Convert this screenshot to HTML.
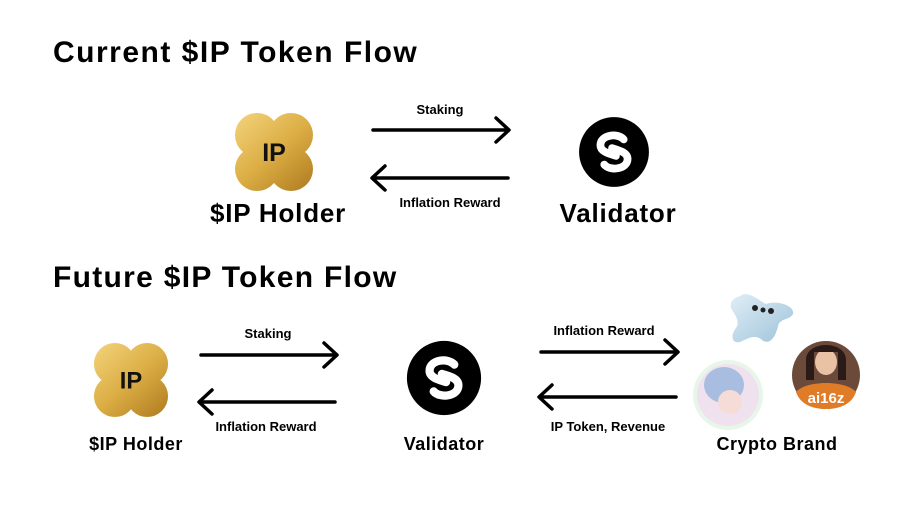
<!DOCTYPE html>
<html><head><meta charset="utf-8"><style>
body{margin:0;width:904px;height:508px;background:#fff;position:relative;overflow:hidden;font-family:"Liberation Sans","DejaVu Sans",sans-serif;color:#000}
.t{position:absolute;white-space:nowrap;font-weight:bold}
.c{transform:translateX(-50%)}
svg{position:absolute;left:0;top:0}
</style></head><body>
<div class="t" style="left:53px;top:36px;font-size:30px;letter-spacing:1.5px">Current $IP Token Flow</div>
<div class="t" style="left:53px;top:261px;font-size:30px;letter-spacing:1.3px">Future $IP Token Flow</div>

<div class="t c" style="left:278px;top:198px;font-size:26px;letter-spacing:0.8px">$IP Holder</div>
<div class="t c" style="left:618px;top:198px;font-size:26px;letter-spacing:0.8px">Validator</div>
<div class="t c" style="left:440px;top:102px;font-size:13px">Staking</div>
<div class="t c" style="left:450px;top:195px;font-size:13px">Inflation Reward</div>

<div class="t c" style="left:136px;top:434px;font-size:18px;letter-spacing:0.5px">$IP Holder</div>
<div class="t c" style="left:444px;top:434px;font-size:18px;letter-spacing:0.5px">Validator</div>
<div class="t c" style="left:777px;top:434px;font-size:18px;letter-spacing:0.5px">Crypto Brand</div>
<div class="t c" style="left:268px;top:326px;font-size:13px">Staking</div>
<div class="t c" style="left:266px;top:419px;font-size:13px">Inflation Reward</div>
<div class="t c" style="left:604px;top:323px;font-size:13px">Inflation Reward</div>
<div class="t c" style="left:608px;top:419px;font-size:13px">IP Token, Revenue</div>

<svg width="904" height="508">
<defs>
<linearGradient id="g" gradientUnits="userSpaceOnUse" x1="-35" y1="-40" x2="35" y2="40"><stop offset="0" stop-color="#f3d27a"/><stop offset="0.5" stop-color="#dcae45"/><stop offset="1" stop-color="#b07c20"/></linearGradient>
<g id="ip">
<g fill="url(#g)">
<circle cx="-17" cy="-17" r="22"/><circle cx="17" cy="-17" r="22"/>
<circle cx="-17" cy="17" r="22"/><circle cx="17" cy="17" r="22"/>
<rect x="-28" y="-28" width="56" height="56"/>
</g>
<text x="0" y="9" text-anchor="middle" font-family="Liberation Sans" font-weight="bold" font-size="25" fill="#111">IP</text>
</g>
<g id="val">
<circle cx="0" cy="0" r="36" fill="#000"/>
<path d="M10,-13 C4,-20 -14,-18 -14,-7 C-14,0 -4,2 2,4 M-2,-4 C4,-2 14,0 14,7 C14,18 -4,20 -10,13" stroke="#fff" stroke-width="8" fill="none" stroke-linecap="round"/>
</g>
<linearGradient id="st" x1="0" y1="0" x2="1" y2="1"><stop offset="0" stop-color="#dfeef7"/><stop offset="1" stop-color="#9ec2d9"/></linearGradient>
</defs>
<use href="#ip" x="274" y="152"/>
<use href="#ip" x="131" y="380" transform="translate(131,380) scale(0.95) translate(-131,-380)"/>
<use href="#val" x="614" y="152" transform="translate(614,152) scale(0.97) translate(-614,-152)"/>
<use href="#val" x="444" y="378" transform="translate(444,378) scale(1.03) translate(-444,-378)"/>
<g stroke="#000" stroke-width="3.5" fill="none" stroke-linecap="round" stroke-linejoin="round">
<path d="M373,130 H508 M496,118 L509,130 L496,142"/>
<path d="M508,178 H373 M385,166 L372,178 L385,190"/>
<path d="M201,355 H336 M324,343 L337,355 L324,367"/>
<path d="M335,402 H200 M212,390 L199,402 L212,414"/>
<path d="M541,352 H677 M665,340 L678,352 L665,364"/>
<path d="M676,397 H540 M552,385 L539,397 L552,409"/>
</g>
<path d="M740,296 C748,290 758,300 766,304 C776,300 795,305 793,314 C790,320 780,318 778,326 C776,336 770,346 762,340 C756,334 748,338 740,342 C732,344 730,336 736,328 C740,322 736,316 732,310 C728,302 734,298 740,296Z" fill="url(#st)"/>
<circle cx="755" cy="308" r="3" fill="#222"/><circle cx="763" cy="310" r="2.5" fill="#222"/><circle cx="771" cy="311" r="3" fill="#222"/>
<circle cx="728" cy="395" r="35" fill="#e8f6ea"/>
<circle cx="728" cy="395" r="31" fill="#efe2ee"/>
<ellipse cx="724" cy="385" rx="20" ry="18" fill="#a9bde0"/>
<ellipse cx="730" cy="402" rx="12" ry="12" fill="#f5dcd6"/>
<circle cx="826" cy="375" r="34" fill="#6b4a3a"/>
<path d="M796,392 C806,380 846,380 856,392 C852,404 840,409 826,409 C812,409 800,404 796,392Z" fill="#e07c28"/>
<ellipse cx="826" cy="362" rx="11" ry="13" fill="#e9c2a6"/>
<path d="M806,360 C806,340 846,340 846,360 L846,380 L838,380 L838,352 L814,352 L814,380 L806,380Z" fill="#2a1a18"/>
<text x="826" y="403" text-anchor="middle" font-family="Liberation Sans" font-weight="bold" font-size="15" fill="#fff">ai16z</text>
</svg>
</body></html>
